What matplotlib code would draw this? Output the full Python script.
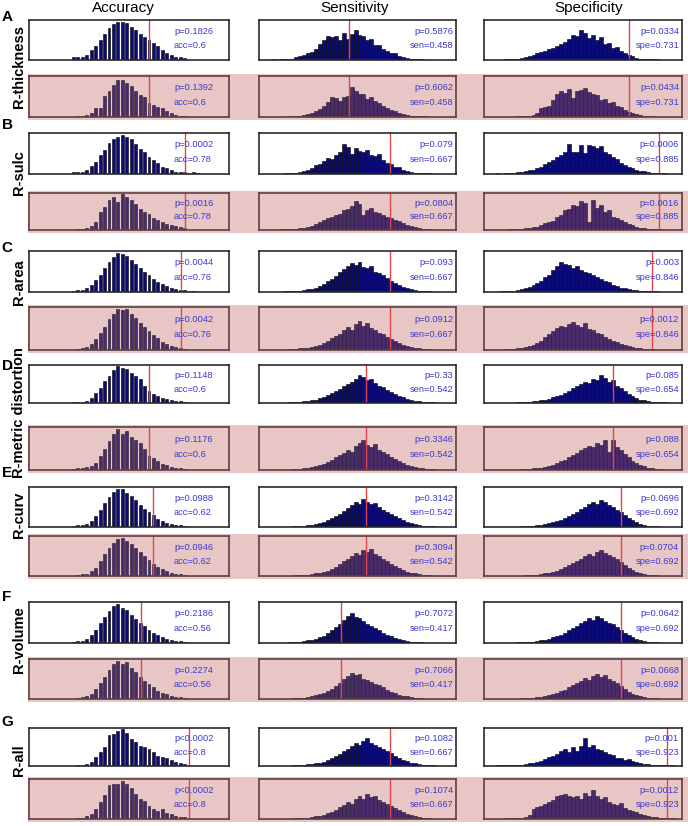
import matplotlib.pyplot as plt
from matplotlib.patches import Rectangle
import numpy as np

plt.rcParams['font.family'] = ['Liberation Sans', 'DejaVu Sans']

row_letters = ['A', 'B', 'C', 'D', 'E', 'F', 'G']
row_names = ['R-thickness', 'R-sulc', 'R-area', 'R-metric distortion', 'R-curv', 'R-volume', 'R-all']
metric_titles = ['Accuracy', 'Sensitivity', 'Specificity']

# observed values (red line) per row
acc_obs = [0.6, 0.78, 0.76, 0.6, 0.62, 0.56, 0.8]
sen_obs = [0.458, 0.667, 0.667, 0.542, 0.542, 0.417, 0.667]
spe_obs = [0.731, 0.885, 0.846, 0.654, 0.692, 0.692, 0.923]

# p-values, white row / pink row
acc_p_w = ['p=0.1826', 'p=0.0002', 'p=0.0044', 'p=0.1148', 'p=0.0988', 'p=0.2186', 'p<0.0002']
acc_p_p = ['p=0.1392', 'p=0.0016', 'p=0.0042', 'p=0.1176', 'p=0.0946', 'p=0.2274', 'p<0.0002']
sen_p_w = ['p=0.5876', 'p=0.079', 'p=0.093', 'p=0.33', 'p=0.3142', 'p=0.7072', 'p=0.1082']
sen_p_p = ['p=0.6062', 'p=0.0804', 'p=0.0912', 'p=0.3346', 'p=0.3094', 'p=0.7066', 'p=0.1074']
spe_p_w = ['p=0.0334', 'p=0.0006', 'p=0.003', 'p=0.085', 'p=0.0696', 'p=0.0642', 'p=0.001']
spe_p_p = ['p=0.0434', 'p=0.0016', 'p=0.0012', 'p=0.088', 'p=0.0704', 'p=0.0668', 'p=0.0012']

# accuracy permutation histograms (bars at k/45, first k given)
acc_start_w = [10, 10, 10, 10, 10, 10, 11]
acc_start_p = [11, 11, 11, 10, 11, 11, 11]
acc_A_w = [7, 7, 9, 14, 27, 36, 53, 68, 82, 93, 100, 100, 95, 86, 77, 68, 59, 53, 45, 36, 27, 18, 14, 9, 7, 5]
acc_A_p = [3, 3, 6, 10, 24, 24, 54, 66, 82, 94, 93, 86, 78, 66, 56, 50, 35, 30, 26, 24, 14, 10, 6, 3, 3]
acc_B_w = [4, 4, 6, 11, 21, 30, 47, 61, 79, 89, 94, 100, 94, 88, 76, 63, 56, 44, 35, 28, 19, 15, 11, 6, 4, 6, 2, 4, 2]
acc_B_p = [4, 4, 7, 12, 22, 50, 64, 85, 92, 80, 100, 92, 85, 72, 60, 52, 45, 35, 28, 22, 18, 15, 10, 8, 5]
acc_C_w = [3, 4, 6, 10, 18, 30, 44, 60, 76, 90, 100, 96, 92, 82, 72, 62, 52, 42, 34, 26, 20, 14, 10, 7, 5, 4, 3, 2]
acc_C_p = [3, 5, 8, 14, 26, 40, 56, 74, 88, 98, 96, 100, 88, 78, 66, 56, 46, 36, 28, 20, 14, 10, 7, 4, 3]
acc_D_w = [3, 3, 4, 6, 13, 27, 42, 59, 75, 89, 100, 97, 92, 83, 75, 66, 47, 34, 25, 19, 13, 10, 7, 6, 5, 4]
acc_D_p = [2, 4, 6, 7, 9, 17, 33, 51, 69, 86, 100, 86, 94, 80, 72, 65, 51, 35, 29, 21, 15, 12, 7, 6, 4, 2]
acc_E_w = [3, 4, 5, 8, 16, 28, 44, 62, 78, 92, 100, 98, 88, 80, 70, 58, 48, 38, 30, 22, 16, 11, 8, 6, 4, 3]
acc_E_p = [3, 4, 6, 12, 22, 38, 56, 72, 86, 96, 100, 90, 84, 74, 62, 52, 42, 32, 24, 18, 13, 9, 6, 4, 3]
acc_F_w = [3, 4, 6, 10, 20, 34, 50, 66, 82, 94, 100, 90, 84, 72, 62, 52, 42, 34, 26, 20, 15, 11, 8, 5, 4, 3]
acc_F_p = [3, 5, 8, 14, 26, 42, 58, 76, 90, 100, 92, 96, 80, 70, 58, 48, 40, 30, 22, 16, 12, 8, 6, 4, 3]
acc_G_w = [2, 2, 6, 12, 24, 37, 53, 84, 87, 95, 100, 89, 73, 65, 54, 53, 46, 37, 28, 24, 22, 16, 12, 7, 6]
acc_G_p = [3, 3, 7, 12, 25, 44, 62, 89, 91, 91, 100, 91, 80, 66, 53, 48, 35, 25, 21, 25, 16, 12, 7, 5, 4]

# sensitivity histograms, 50 bins of width 0.02
sen_A_w = [0, 0, 0, 2, 0, 2, 2, 3, 4, 8, 10, 14, 18, 22, 30, 45, 55, 66, 64, 66,
           55, 75, 58, 72, 82, 68, 66, 55, 58, 40, 42, 30, 26, 18, 20, 11, 8, 6, 4, 3,
           2, 2, 1, 1, 0, 0, 0, 0, 0, 0]
sen_A_p = [0, 0, 0, 0, 0, 0, 0, 2, 0, 2, 3, 5, 8, 12, 15, 22, 30, 40, 54, 52,
           44, 54, 57, 80, 71, 61, 61, 48, 54, 42, 37, 30, 24, 19, 16, 10, 9, 5, 4, 3,
           3, 2, 2, 1, 0, 0, 0, 0, 0, 0]
sen_B_w = [0, 0, 0, 1, 1, 1, 2, 2, 3, 4, 5, 8, 10, 16, 24, 28, 36, 44, 40, 52,
           60, 80, 72, 55, 70, 62, 58, 65, 52, 48, 54, 38, 30, 26, 18, 20, 12, 9, 6, 4,
           3, 3, 2, 2, 1, 1, 0, 0, 0, 0]
sen_B_p = [0, 0, 0, 1, 1, 2, 2, 3, 4, 4, 5, 6, 8, 12, 18, 25, 30, 35, 40, 45,
           48, 58, 62, 72, 85, 78, 45, 60, 65, 55, 50, 44, 40, 36, 30, 26, 20, 15, 12, 8,
           5, 4, 3, 2, 1, 0, 0, 0, 0, 0]
sen_C_w = [0, 0, 0, 1, 1, 1, 2, 2, 3, 3, 4, 5, 7, 9, 12, 15, 22, 30, 36, 42,
           55, 62, 70, 78, 72, 80, 68, 64, 70, 55, 50, 45, 38, 30, 24, 18, 14, 10, 7, 5,
           4, 3, 2, 2, 1, 1, 0, 0, 0, 0]
sen_C_p = [0, 0, 0, 0, 1, 1, 1, 2, 2, 3, 4, 5, 6, 8, 10, 14, 18, 24, 30, 36,
           40, 52, 58, 50, 66, 74, 62, 70, 56, 50, 44, 40, 34, 28, 22, 17, 12, 9, 7, 5,
           4, 3, 2, 2, 1, 1, 0, 0, 0, 0]
sen_D_w = [0, 0, 0, 0, 1, 1, 1, 2, 2, 3, 4, 5, 6, 8, 10, 14, 18, 22, 28, 34,
           40, 48, 56, 62, 70, 82, 74, 66, 70, 58, 50, 46, 38, 32, 26, 20, 16, 12, 9, 7,
           5, 4, 3, 2, 2, 1, 1, 0, 0, 0]
sen_D_p = [0, 0, 0, 0, 0, 1, 1, 1, 2, 2, 3, 4, 5, 7, 9, 12, 16, 20, 26, 32,
           38, 44, 52, 46, 62, 70, 76, 64, 58, 66, 52, 46, 40, 34, 28, 22, 18, 14, 10, 8,
           6, 4, 3, 2, 2, 1, 1, 0, 0, 0]
sen_E_w = [0, 0, 0, 0, 0, 1, 1, 1, 2, 2, 3, 4, 5, 6, 8, 11, 14, 18, 24, 30,
           36, 44, 52, 60, 70, 64, 78, 68, 62, 66, 54, 48, 42, 36, 30, 24, 18, 14, 10, 8,
           6, 4, 3, 2, 2, 1, 1, 0, 0, 0]
sen_E_p = [0, 0, 0, 0, 0, 0, 1, 1, 1, 2, 2, 3, 4, 5, 7, 9, 12, 15, 20, 26,
           32, 40, 48, 56, 64, 58, 72, 66, 74, 60, 54, 48, 40, 34, 28, 22, 17, 12, 9, 7,
           5, 4, 3, 2, 1, 1, 0, 0, 0, 0]
sen_F_w = [0, 0, 0, 0, 1, 1, 1, 2, 2, 3, 4, 5, 7, 9, 12, 16, 20, 26, 34, 42,
           52, 62, 72, 80, 70, 66, 58, 52, 46, 40, 34, 28, 22, 18, 14, 10, 8, 6, 4, 3,
           2, 2, 1, 1, 0, 0, 0, 0, 0, 0]
sen_F_p = [0, 0, 0, 0, 0, 1, 1, 1, 2, 2, 3, 4, 6, 8, 10, 13, 17, 22, 28, 36,
           44, 54, 62, 72, 66, 70, 56, 52, 46, 42, 38, 32, 26, 20, 16, 12, 9, 7, 5, 4,
           3, 2, 1, 1, 0, 0, 0, 0, 0, 0]
sen_G_w = [0, 0, 0, 0, 0, 1, 1, 1, 2, 2, 3, 4, 5, 6, 8, 10, 13, 17, 22, 28,
           34, 42, 50, 58, 66, 60, 72, 80, 68, 62, 56, 50, 44, 38, 30, 24, 18, 14, 10, 8,
           6, 4, 3, 2, 2, 1, 1, 0, 0, 0]
sen_G_p = [0, 0, 0, 0, 0, 0, 1, 1, 1, 2, 2, 3, 4, 5, 7, 9, 12, 16, 20, 26,
           32, 38, 46, 42, 56, 62, 54, 68, 60, 64, 52, 48, 42, 36, 30, 24, 18, 14, 10, 8,
           6, 4, 3, 2, 1, 1, 0, 0, 0, 0]

# specificity histograms, 50 bins of width 0.02
spe_A_w = [0, 0, 0, 0, 0, 2, 2, 3, 4, 5, 8, 10, 14, 18, 22, 26, 30, 34, 38, 45,
           50, 58, 70, 66, 82, 74, 60, 70, 55, 62, 45, 48, 32, 35, 25, 20, 15, 10, 6, 4,
           3, 2, 2, 2, 1, 1, 1, 0, 0, 0]
spe_A_p = [0, 0, 0, 0, 0, 0, 0, 0, 2, 2, 3, 4, 6, 10, 24, 28, 30, 45, 62, 70,
           64, 76, 50, 70, 72, 78, 68, 62, 58, 46, 48, 38, 40, 30, 26, 20, 14, 12, 8, 5,
           4, 2, 2, 1, 0, 0, 0, 0, 0, 0]
spe_B_w = [0, 0, 1, 2, 1, 2, 3, 4, 5, 6, 8, 10, 12, 16, 20, 26, 32, 38, 45, 52,
           58, 80, 60, 58, 78, 56, 78, 74, 70, 74, 60, 54, 45, 40, 30, 25, 20, 15, 12, 9,
           7, 5, 4, 3, 3, 2, 1, 1, 0, 0]
spe_B_p = [0, 0, 0, 0, 1, 1, 2, 2, 3, 4, 5, 6, 8, 10, 14, 20, 24, 28, 40, 46,
           58, 62, 75, 70, 85, 80, 25, 88, 65, 74, 55, 58, 40, 35, 30, 24, 18, 14, 10, 7,
           5, 4, 3, 2, 2, 1, 0, 0, 0, 0]
spe_C_w = [0, 0, 1, 1, 2, 2, 3, 4, 6, 8, 10, 14, 18, 24, 30, 40, 46, 60, 70, 80,
           76, 72, 65, 70, 58, 54, 50, 46, 40, 36, 30, 26, 20, 16, 12, 10, 8, 6, 5, 4,
           3, 3, 2, 2, 1, 1, 1, 0, 0, 0]
spe_C_p = [0, 0, 0, 1, 1, 2, 2, 3, 4, 5, 7, 10, 14, 18, 24, 32, 42, 48, 56, 62,
           58, 66, 72, 64, 60, 68, 55, 50, 44, 40, 34, 28, 24, 20, 15, 12, 9, 7, 5, 4,
           3, 2, 2, 1, 1, 1, 0, 0, 0, 0]
spe_D_w = [0, 0, 0, 0, 0, 1, 1, 1, 2, 2, 3, 4, 5, 6, 8, 10, 12, 16, 20, 24,
           30, 36, 42, 48, 55, 62, 58, 70, 66, 80, 72, 60, 66, 50, 42, 34, 26, 20, 15, 10,
           8, 6, 4, 3, 2, 2, 1, 1, 0, 0]
spe_D_p = [0, 0, 0, 0, 0, 0, 1, 1, 1, 2, 2, 3, 4, 5, 6, 8, 10, 14, 18, 22,
           26, 32, 38, 44, 50, 56, 62, 58, 70, 64, 76, 45, 78, 60, 50, 40, 32, 24, 18, 12,
           9, 6, 4, 3, 2, 1, 1, 0, 0, 0]
spe_E_w = [0, 0, 0, 0, 0, 0, 1, 1, 1, 2, 2, 3, 4, 5, 6, 8, 10, 13, 16, 20,
           24, 30, 36, 42, 50, 56, 62, 70, 64, 74, 68, 60, 56, 48, 40, 32, 25, 18, 13, 9,
           6, 4, 3, 2, 1, 1, 1, 0, 0, 0]
spe_E_p = [0, 0, 0, 0, 0, 0, 0, 1, 1, 1, 2, 2, 3, 4, 5, 7, 9, 12, 15, 19,
           24, 30, 35, 42, 48, 55, 60, 56, 66, 72, 62, 58, 52, 46, 38, 30, 22, 16, 12, 8,
           5, 4, 3, 2, 1, 1, 0, 0, 0, 0]
spe_F_w = [0, 0, 0, 0, 0, 1, 1, 1, 2, 2, 3, 3, 4, 6, 7, 9, 12, 15, 18, 22,
           28, 34, 40, 46, 54, 60, 66, 62, 72, 66, 60, 54, 50, 42, 36, 28, 22, 16, 11, 8,
           6, 4, 3, 2, 1, 1, 0, 0, 0, 0]
spe_F_p = [0, 0, 0, 0, 0, 0, 1, 1, 1, 2, 2, 3, 4, 5, 6, 8, 10, 13, 17, 21,
           26, 32, 38, 44, 50, 58, 52, 64, 70, 60, 66, 56, 50, 44, 36, 28, 20, 15, 11, 7,
           5, 4, 3, 2, 1, 1, 0, 0, 0, 0]
spe_G_w = [0, 0, 0, 2, 2, 2, 2, 2, 2, 3, 5, 8, 10, 11, 14, 19, 27, 30, 36, 44,
           48, 40, 56, 44, 58, 80, 56, 61, 50, 45, 40, 36, 32, 24, 22, 18, 21, 14, 11, 8,
           6, 5, 4, 3, 2, 2, 2, 2, 1, 0]
spe_G_p = [0, 0, 0, 1, 1, 2, 2, 3, 3, 4, 5, 10, 28, 32, 36, 40, 46, 52, 62, 66,
           70, 62, 60, 62, 55, 72, 64, 80, 62, 55, 60, 48, 42, 38, 45, 30, 26, 22, 18, 14,
           10, 8, 6, 5, 4, 4, 3, 2, 1, 0]

acc_white = [acc_A_w, acc_B_w, acc_C_w, acc_D_w, acc_E_w, acc_F_w, acc_G_w]
acc_pink = [acc_A_p, acc_B_p, acc_C_p, acc_D_p, acc_E_p, acc_F_p, acc_G_p]
sen_white = [sen_A_w, sen_B_w, sen_C_w, sen_D_w, sen_E_w, sen_F_w, sen_G_w]
sen_pink = [sen_A_p, sen_B_p, sen_C_p, sen_D_p, sen_E_p, sen_F_p, sen_G_p]
spe_white = [spe_A_w, spe_B_w, spe_C_w, spe_D_w, spe_E_w, spe_F_w, spe_G_w]
spe_pink = [spe_A_p, spe_B_p, spe_C_p, spe_D_p, spe_E_p, spe_F_p, spe_G_p]

# layout in pixels
W, H = 688, 826
col_x = [(29, 229), (259, 456), (484, 682)]
white_y = [(20, 60), (133, 174), (251, 292), (365, 403), (487, 527), (602, 643), (728, 766)]
pink_y = [(76, 117), (193, 230), (307, 350), (427, 470), (536, 576), (659, 699), (779, 819)]
letter_y = [17, 125, 248, 366, 473, 597, 722]
name_y = [67, 173, 282, 413, 515, 640, 760]
title_x = [123, 355, 589]

pink_bg = '#e8c6c6'
navy = '#0b0b78'
purple = '#4a2c6a'
txt_blue = '#3a3ad2'
red = '#e04848'

fig = plt.figure(figsize=(W / 100, H / 100), dpi=100)


def make_ax(x0, x1, y0, y1, pink):
    ax = fig.add_axes([x0 / W, 1 - y1 / H, (x1 - x0) / W, (y1 - y0) / H])
    ax.set_facecolor(pink_bg if pink else 'white')
    for s in ax.spines.values():
        s.set_color('#5e3e3e' if pink else '#2a2a2a')
        s.set_linewidth(1.2)
    ax.set_xticks([])
    ax.set_yticks([])
    ax.set_xlim(0, 1)
    return ax


for r in range(7):
    # pink band behind second sub-row
    y0, y1 = pink_y[r]
    fig.add_artist(Rectangle((28 / W, 1 - (y1 + 3) / H), (W - 28) / W, (y1 - y0 + 5) / H,
                             transform=fig.transFigure, color=pink_bg, zorder=-5, lw=0))

    for sub in range(2):
        pink = sub == 1
        yy = pink_y[r] if pink else white_y[r]
        fill = purple if pink else navy
        edge = '#24182e' if pink else 'black'

        # accuracy
        ax = make_ax(*col_x[0], *yy, pink)
        h = acc_pink[r] if pink else acc_white[r]
        k0 = acc_start_p[r] if pink else acc_start_w[r]
        xs = [(k0 + i) / 45 for i in range(len(h))]
        ax.bar(xs, h, width=0.0145, color=fill, edgecolor=edge, linewidth=0.4)
        ax.set_ylim(0, 104)
        ax.axvline(acc_obs[r], color=red, lw=1)
        ax.text(0.725, 0.72, (acc_p_p if pink else acc_p_w)[r], transform=ax.transAxes,
                fontsize=6.7, color=txt_blue, ha='left', va='center')
        ax.text(0.725, 0.36, 'acc=%g' % acc_obs[r], transform=ax.transAxes,
                fontsize=6.7, color=txt_blue, ha='left', va='center')

        # sensitivity / specificity
        for c, (vals, obs, ptxt, lab) in enumerate([
                (sen_pink if pink else sen_white, sen_obs, sen_p_p if pink else sen_p_w, 'sen'),
                (spe_pink if pink else spe_white, spe_obs, spe_p_p if pink else spe_p_w, 'spe')]):
            ax = make_ax(*col_x[c + 1], *yy, pink)
            h = vals[r]
            edges = np.arange(len(h)) * 0.02
            ax.bar(edges, h, width=0.02, align='edge', color=fill, edgecolor=edge, linewidth=0.4)
            ax.set_ylim(0, 110)
            ax.axvline(obs[r], color=red, lw=1)
            ax.text(0.985, 0.72, ptxt[r], transform=ax.transAxes,
                    fontsize=6.7, color=txt_blue, ha='right', va='center')
            ax.text(0.985, 0.36, '%s=%g' % (lab, obs[r]), transform=ax.transAxes,
                    fontsize=6.7, color=txt_blue, ha='right', va='center')

    fig.text(7 / W, 1 - letter_y[r] / H, row_letters[r], fontsize=11, fontweight='bold',
             ha='center', va='center')
    fig.text(19 / W, 1 - name_y[r] / H, row_names[r], fontsize=10.5, fontweight='bold',
             rotation=90, ha='center', va='center')

for c in range(3):
    fig.text(title_x[c] / W, 1 - 8 / H, metric_titles[c], fontsize=11, ha='center', va='center')

fig.savefig('out.png', dpi=100)
